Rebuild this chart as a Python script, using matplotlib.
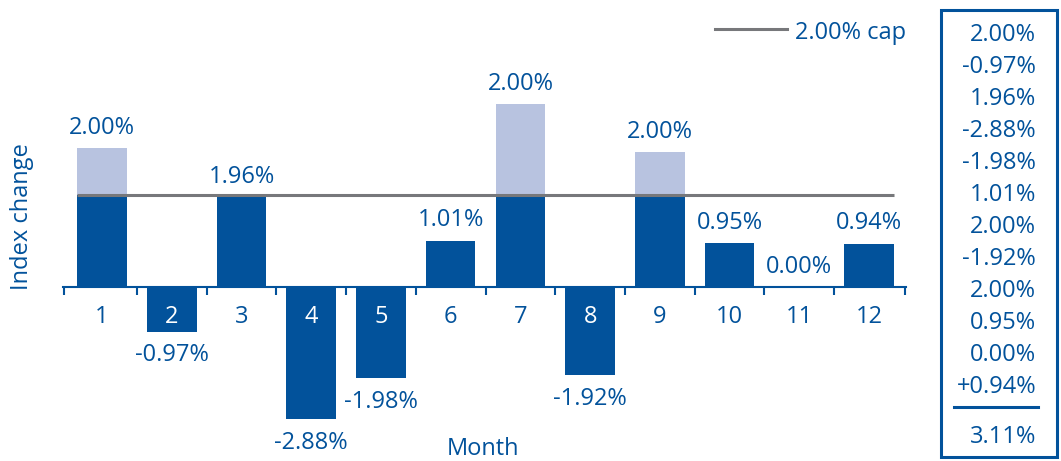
import matplotlib
matplotlib.use("Agg")
import matplotlib.pyplot as plt
from matplotlib.lines import Line2D
from matplotlib.patches import Rectangle
import numpy as np

# monthly index changes (credited, after the cap) and the raw change where it went over
months = [str(m) for m in range(1, 13)]
credited = [2.00, -0.97, 1.96, -2.88, -1.98, 1.01, 2.00, -1.92, 2.00, 0.95, 0.00, 0.94]
raw = [3.02, -0.97, 1.96, -2.88, -1.98, 1.01, 3.98, -1.92, 2.93, 0.95, 0.00, 0.94]
cap = 2.00

blue = "#02529b"
light = "#b8c3e0"
grey = "#77787b"
plt.rcParams["font.family"] = ["Open Sans", "DejaVu Sans"]
fs = 17

W, H = 1061, 461
fig = plt.figure(figsize=(W / 100, H / 100), dpi=100)

def fx(px):
    return px / W

def fy(py):
    return 1 - py / H

# axes: x runs 63..906 px, zero line at 287 px, 46 px per percent
ppp = 46.0
zero = 287
ax = fig.add_axes([fx(63), 0, fx(906 - 63), 1])
x0, x1 = -0.56, 11.53
ax.set_xlim(x0, x1)
ax.set_ylim(-(H - zero) / ppp, zero / ppp)

x = np.arange(len(months))
wid = 0.71
ax.bar(x, raw, width=wid, color=light, zorder=2)
ax.bar(x, credited, width=wid, color=blue, zorder=3)
ax.hlines(cap, x[0] - wid / 2, x[-1] + wid / 2, color=grey, lw=2.2, zorder=4)

for xi, c, r in zip(x, credited, raw):
    label = f"{c:.2f}%"
    if c >= 0:
        ax.annotate(label, (xi, max(c, r)), xytext=(0, 6), textcoords="offset points",
                    ha="center", va="bottom", color=blue, fontsize=fs)
    else:
        ax.annotate(label, (xi, c), xytext=(0, -8.5), textcoords="offset points",
                    ha="center", va="top", color=blue, fontsize=fs)

for s in ["top", "right", "left"]:
    ax.spines[s].set_visible(False)
ax.spines["bottom"].set_position(("data", 0))
ax.spines["bottom"].set_color(blue)
ax.spines["bottom"].set_linewidth(1.5)
ax.spines["bottom"].set_zorder(5)
ax.xaxis.set_zorder(6)
ax.set_yticks([])
ax.set_xticks(x)
ax.set_xticklabels(months, fontsize=fs)
ax.set_xticks(np.r_[x0 + 0.01, x[:-1] + 0.5, x1 - 0.01], minor=True)
ax.tick_params(axis="x", which="major", length=0, pad=13)
ax.tick_params(axis="x", which="minor", length=6, width=1.5, color=blue, direction="out")
for lab, c in zip(ax.get_xticklabels(), credited):
    lab.set_color("white" if c < 0 else blue)
ax.patch.set_visible(False)

fig.text(fx(22), fy(217), "Index change", rotation=90, ha="center", va="center",
         color=blue, fontsize=fs)
fig.text(fx(483), fy(455), "Month", ha="center", va="baseline", color=blue, fontsize=fs)

# legend for the cap line
fig.add_artist(Line2D([fx(715), fx(787)], [fy(29), fy(29)], color=grey, lw=2.2))
fig.text(fx(795), fy(39), f"{cap:.2f}% cap", ha="left", va="baseline", color=blue, fontsize=fs)

# running tally box on the right
fig.add_artist(Rectangle((fx(941), fy(457)), fx(1057 - 941), (457 - 10) / H,
                         fill=False, edgecolor=blue, lw=2.2))
for i, c in enumerate(credited):
    txt = f"{c:.2f}%"
    if i == len(credited) - 1:
        txt = f"+{c:.2f}%"
    fig.text(fx(1036), fy(32 + 32 * i + 9), txt, ha="right", va="baseline",
             color=blue, fontsize=fs)
fig.add_artist(Line2D([fx(954), fx(1038)], [fy(407), fy(407)], color=blue, lw=2.2))
total = sum(credited)
fig.text(fx(1036), fy(434 + 9), f"{total:.2f}%", ha="right", va="baseline",
         color=blue, fontsize=fs)

fig.savefig("out.png", dpi=100)
